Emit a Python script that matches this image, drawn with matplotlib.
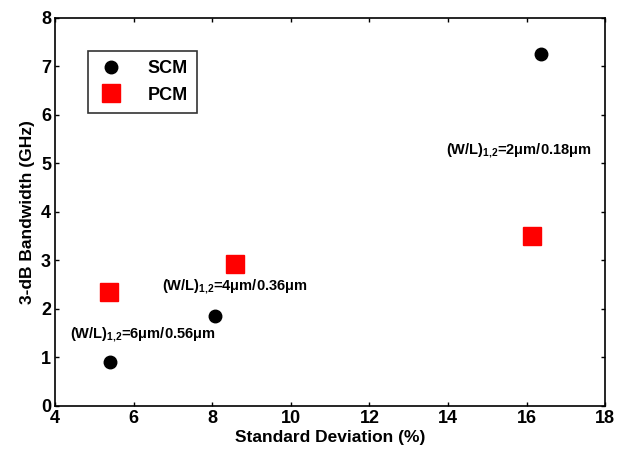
import matplotlib
matplotlib.use('Agg')
import matplotlib.pyplot as plt

plt.rcParams['font.family'] = ['Liberation Sans', 'DejaVu Sans']
plt.rcParams['font.weight'] = 'bold'
plt.rcParams['mathtext.fontset'] = 'custom'
plt.rcParams['mathtext.rm'] = 'Liberation Sans:bold'
plt.rcParams['mathtext.bf'] = 'Liberation Sans:bold'
plt.rcParams['mathtext.it'] = 'Liberation Sans:bold'

# data
scm_x = [5.40, 8.07, 16.38]
scm_y = [0.91, 1.86, 7.26]
pcm_x = [5.38, 8.58, 16.15]
pcm_y = [2.35, 2.92, 3.51]

xticks = [4, 6, 8, 10, 12, 14, 16, 18]
yticks = [0, 1, 2, 3, 4, 5, 6, 7, 8]

labels = [r'(W/L)$_{1{,}2}$=6μm/0.56μm',
          r'(W/L)$_{1{,}2}$=4μm/0.36μm',
          r'(W/L)$_{1{,}2}$=2μm/0.18μm']
label_x = [4.38, 6.72, 13.95]
label_y = [1.40, 2.38, 5.18]

fig = plt.figure(figsize=(6.2, 4.57), dpi=100)
ax = fig.add_axes([0.089, 0.112, 0.887, 0.849])

ax.plot(scm_x, scm_y, 'o', color='black', markersize=9, label='SCM')
ax.plot(pcm_x, pcm_y, 's', color='red', markersize=13, label='PCM')

for t, x, y in zip(labels, label_x, label_y):
    ax.text(x, y, t, fontsize=10.5, fontweight='bold')

ax.set_xlim(4, 18)
ax.set_ylim(0, 8)
ax.set_xticks(xticks)
ax.set_yticks(yticks)
ax.tick_params(direction='in', top=True, right=True, labelsize=13, length=3, width=1, pad=3)
for s in ax.spines.values():
    s.set_linewidth(1.2)
ax.set_xlabel('Standard Deviation (%)', fontsize=12.5, fontweight='bold', labelpad=2)
ax.set_ylabel('3-dB Bandwidth (GHz)', fontsize=12.5, fontweight='bold', labelpad=4)

leg = ax.legend(loc='upper left', bbox_to_anchor=(0.06, 0.915), fancybox=False,
                edgecolor='black', fontsize=13, borderpad=0.5, handletextpad=1.3,
                labelspacing=0.55, markerfirst=True, handlelength=1.5, borderaxespad=0)
leg.get_frame().set_linewidth(1.2)
for t in leg.get_texts():
    t.set_fontweight('bold')

fig.savefig('out.png', dpi=100)
